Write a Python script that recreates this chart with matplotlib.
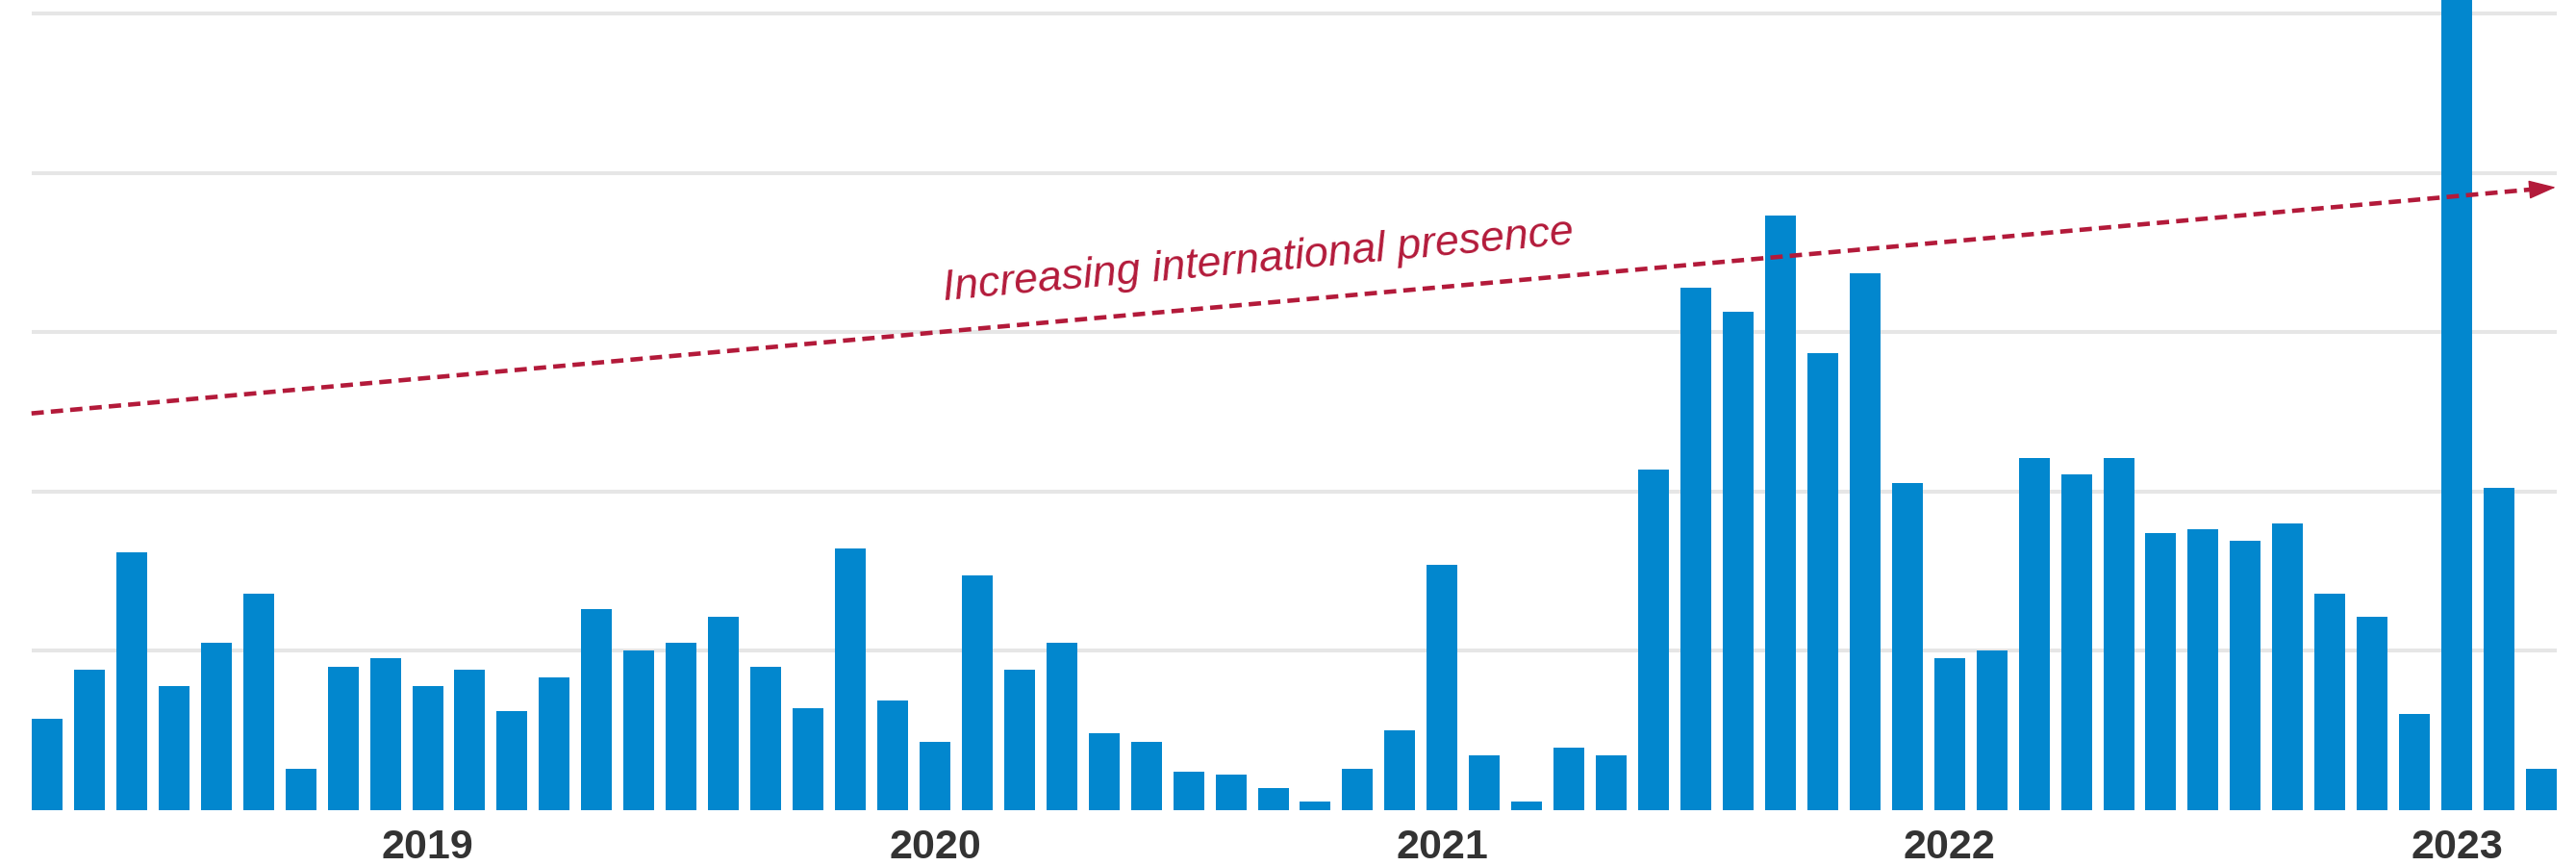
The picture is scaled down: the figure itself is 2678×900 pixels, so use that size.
import math

import matplotlib
matplotlib.use("Agg")
import matplotlib.pyplot as plt
import pandas as pd

# monthly counts, Apr 2018 - Mar 2023
months = pd.date_range("2018-04-01", "2023-03-01", freq="MS")
counts = [
    57, 88, 162, 78, 105, 136, 26, 90, 95,          # 2018
    78, 88, 62, 83, 126, 100, 105, 121, 90, 64, 164, 69,   # 2019
    43, 147, 88, 105, 48, 43, 24, 22, 14, 5, 26, 50,        # 2020
    154, 34, 5, 39, 34, 214, 328, 313, 373, 287, 337, 205,  # 2021
    95, 100, 221, 211, 221, 174, 176, 169, 180, 136, 121, 60,  # 2022
    560, 202, 26,                                    # 2023
]
year_labels = ["2019", "2020", "2021", "2022", "2023"]
grid_levels = [100, 200, 300, 400, 500]

# trend arrow (data coords) and its caption
trend_x = [-0.37, 59.34]
trend_y = [249, 391]
trend_label = "Increasing international presence"

BLUE = "#0287ce"
RED = "#b31a3a"
GRID = "#e6e6e6"
DARK = "#333333"

fig = plt.figure(figsize=(26.78, 9), dpi=100)
ax = fig.add_axes([33 / 2678, 58.3 / 900, 2625 / 2678, 841.7 / 900])

width = 0.728
xs = list(range(len(months)))
ax.bar(xs, counts, width=width, color=BLUE, zorder=2)

ax.set_xlim(-width / 2, len(months) - 1 + width / 2)
ax.set_ylim(0, 508.6)

ax.set_yticks(grid_levels)
ax.yaxis.grid(True, color=GRID, linewidth=2.9, zorder=0)
ax.set_axisbelow(True)
ax.tick_params(axis="y", length=0, labelleft=False)

# year labels sit under each January
jan_idx = [i for i, m in enumerate(months) if m.month == 1]
ax.set_xticks(jan_idx)
ax.set_xticklabels(year_labels, fontfamily="Liberation Sans", fontweight="bold",
                   fontsize=31, color=DARK)
ax.tick_params(axis="x", length=0, pad=14)

for s in ax.spines.values():
    s.set_visible(False)

# dashed trend line with a solid arrow head
f = 0.99
bx = trend_x[0] + f * (trend_x[1] - trend_x[0])
by = trend_y[0] + f * (trend_y[1] - trend_y[0])
ax.plot([trend_x[0], bx], [trend_y[0], by], color=RED, linewidth=3.3,
        dashes=(2.8, 1.6), zorder=3, clip_on=False)
ax.annotate("", xy=(trend_x[1], trend_y[1]), xytext=(bx, by),
            arrowprops=dict(arrowstyle="-|>,head_length=1.8,head_width=0.62",
                            mutation_scale=10, color=RED, lw=1,
                            shrinkA=0, shrinkB=0),
            zorder=3, annotation_clip=False)

# caption follows the slope of the line on screen
p0 = ax.transData.transform((trend_x[0], trend_y[0]))
p1 = ax.transData.transform((trend_x[1], trend_y[1]))
angle = math.degrees(math.atan2(p1[1] - p0[1], p1[0] - p0[0]))
ax.text(21.2, 320, trend_label, rotation=angle, rotation_mode="anchor",
        ha="left", va="baseline", fontfamily="Liberation Sans", style="italic",
        fontsize=32.1, color=RED, zorder=4)

fig.savefig("out.png", dpi=100)
